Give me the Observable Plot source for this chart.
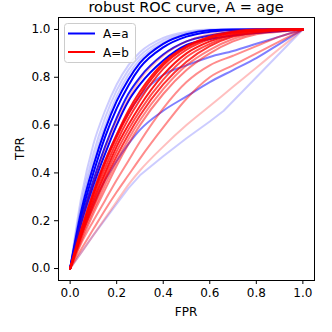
<!DOCTYPE html>
<html>
<head>
<meta charset="utf-8">
<script src="https://cdn.jsdelivr.net/npm/d3@7"></script>
<script src="https://cdn.jsdelivr.net/npm/@observablehq/plot@0.6"></script>
<style>
  html, body { margin: 0; padding: 0; background: #fff; }
  #chart { width: 332px; height: 332px; }
</style>
</head>
<body>
<div id="chart"></div>
<script>
// ---- data ----
const title = "robust ROC curve, A = age";
const xLabel = "FPR";
const yLabel = "TPR";
const groups = ["A=a", "A=b"];
const ticks = [0, 0.2, 0.4, 0.6, 0.8, 1.0];

const fpr = [0, 0.05, 0.1, 0.15, 0.2, 0.25, 0.3, 0.4, 0.5, 0.6, 0.7, 0.8, 0.9, 1.0];

const blueTPR = [
  [0, 0.31, 0.52, 0.66, 0.77, 0.85, 0.905, 0.965, 0.99, 1, 1, 1, 1, 1],
  [0, 0.28, 0.48, 0.63, 0.745, 0.83, 0.89, 0.955, 0.985, 0.998, 1, 1, 1, 1],
  [0, 0.26, 0.45, 0.60, 0.72, 0.81, 0.875, 0.945, 0.98, 0.995, 1, 1, 1, 1],
  [0, 0.25, 0.43, 0.58, 0.70, 0.79, 0.86, 0.94, 0.98, 0.997, 1, 1, 1, 1],
  [0, 0.23, 0.40, 0.55, 0.67, 0.765, 0.84, 0.925, 0.97, 0.99, 0.998, 1, 1, 1],
  [0, 0.21, 0.37, 0.51, 0.63, 0.73, 0.80, 0.895, 0.95, 0.975, 0.99, 0.997, 1, 1],
  [0, 0.20, 0.35, 0.48, 0.60, 0.70, 0.77, 0.87, 0.935, 0.96, 0.975, 0.985, 0.993, 1],
  [0, 0.19, 0.33, 0.45, 0.56, 0.65, 0.72, 0.81, 0.85, 0.885, 0.91, 0.94, 0.97, 1],
  [0, 0.15, 0.27, 0.37, 0.45, 0.52, 0.58, 0.66, 0.72, 0.78, 0.83, 0.88, 0.94, 1]
];
const blueAlpha = [0.2, 0.2, 0.2, 1, 1, 0.9, 1, 0.5, 0.5];

const blueKinkFPR = [0, 0.05, 0.1, 0.15, 0.2, 0.25, 0.3, 0.4, 0.5, 0.6, 0.66, 1.0];
const blueKinkTPR = [0, 0.07, 0.14, 0.205, 0.27, 0.335, 0.39, 0.47, 0.545, 0.615, 0.66, 1.0];
const blueKinkAlpha = 0.2;

const redTPR = [
  [0, 0.20, 0.36, 0.50, 0.62, 0.71, 0.79, 0.89, 0.95, 0.98, 0.995, 1, 1, 1],
  [0, 0.17, 0.32, 0.45, 0.56, 0.66, 0.74, 0.86, 0.93, 0.97, 0.99, 1, 1, 1],
  [0, 0.165, 0.31, 0.44, 0.55, 0.645, 0.725, 0.85, 0.925, 0.965, 0.987, 0.997, 1, 1],
  [0, 0.16, 0.30, 0.42, 0.53, 0.625, 0.705, 0.835, 0.915, 0.96, 0.985, 0.996, 1, 1],
  [0, 0.15, 0.285, 0.40, 0.51, 0.60, 0.68, 0.81, 0.90, 0.95, 0.98, 0.994, 1, 1],
  [0, 0.145, 0.27, 0.385, 0.49, 0.58, 0.66, 0.79, 0.885, 0.94, 0.975, 0.99, 0.998, 1],
  [0, 0.14, 0.26, 0.37, 0.47, 0.56, 0.64, 0.77, 0.865, 0.93, 0.97, 0.988, 0.997, 1],
  [0, 0.13, 0.245, 0.35, 0.45, 0.54, 0.62, 0.75, 0.85, 0.915, 0.96, 0.985, 0.996, 1],
  [0, 0.12, 0.23, 0.33, 0.43, 0.52, 0.60, 0.73, 0.83, 0.90, 0.95, 0.98, 0.99, 1],
  [0, 0.11, 0.20, 0.285, 0.37, 0.45, 0.53, 0.67, 0.78, 0.85, 0.89, 0.93, 0.97, 1],
  [0, 0.085, 0.165, 0.245, 0.32, 0.39, 0.46, 0.59, 0.71, 0.80, 0.85, 0.90, 0.95, 1],
  [0, 0.07, 0.14, 0.21, 0.28, 0.35, 0.41, 0.51, 0.60, 0.68, 0.76, 0.84, 0.92, 1]
];
const redAlpha = [0.25, 0.9, 0.9, 0.8, 0.9, 0.7, 0.8, 0.5, 0.5, 0.45, 0.45, 0.25];

// ---- build tables ----
const rows = [];
blueTPR.forEach((t, i) => t.forEach((v, j) => rows.push({fpr: fpr[j], tpr: v, id: "a" + i, group: groups[0], alpha: blueAlpha[i]})));
redTPR.forEach((t, i) => t.forEach((v, j) => rows.push({fpr: fpr[j], tpr: v, id: "b" + i, group: groups[1], alpha: redAlpha[i]})));
const kinkRows = blueKinkFPR.map((f, j) => ({fpr: f, tpr: blueKinkTPR[j], id: "ak", group: groups[0], alpha: blueKinkAlpha}));

const color = d3.scaleOrdinal(groups, ["#0000ff", "#ff0000"]);

const chart = Plot.plot({
  width: 332,
  height: 332,
  marginLeft: 58,
  marginRight: 18,
  marginTop: 17,
  marginBottom: 52,
  style: {fontFamily: "DejaVu Sans", fontSize: "12px", background: "#fff", color: "#000"},
  x: {domain: [-0.05, 1.05]},
  y: {domain: [-0.05, 1.05]},
  marks: [
    Plot.line(kinkRows, {x: "fpr", y: "tpr", z: "id", stroke: d => color(d.group), strokeOpacity: "alpha", strokeWidth: 2}),
    Plot.line(rows, {x: "fpr", y: "tpr", z: "id", stroke: d => color(d.group), strokeOpacity: "alpha", strokeWidth: 2, curve: "monotone-x"}),
    Plot.frame({stroke: "#000", strokeWidth: 1}),
    Plot.axisX({ticks, tickFormat: d3.format(".1f"), tickSize: 4, tickPadding: 4, fontSize: 12, label: null, stroke: "#000"}),
    Plot.axisY({ticks, tickFormat: d3.format(".1f"), tickSize: 4, tickPadding: 4, fontSize: 12, label: null, stroke: "#000"})
  ]
});

const svg = d3.select(chart);
// title and axis labels
svg.append("text").attr("x", 186).attr("y", 12).attr("text-anchor", "middle")
  .attr("font-family", "DejaVu Sans").attr("font-size", 14.5).attr("fill", "#000").text(title);
svg.append("text").attr("x", 186).attr("y", 316).attr("text-anchor", "middle")
  .attr("font-family", "DejaVu Sans").attr("font-size", 12).attr("fill", "#000").text(xLabel);
svg.append("text").attr("transform", "translate(24,148.5) rotate(-90)").attr("text-anchor", "middle")
  .attr("font-family", "DejaVu Sans").attr("font-size", 12).attr("fill", "#000").text(yLabel);

// legend
const lg = svg.append("g");
lg.append("rect").attr("x", 64.5).attr("y", 23.5).attr("width", 71).attr("height", 39).attr("rx", 3)
  .attr("fill", "#fff").attr("fill-opacity", 0.8).attr("stroke", "#cccccc").attr("stroke-width", 1);
groups.forEach((g, i) => {
  const y = 33.5 + i * 18.5;
  lg.append("line").attr("x1", 68).attr("x2", 95).attr("y1", y).attr("y2", y)
    .attr("stroke", color(g)).attr("stroke-width", 2);
  lg.append("text").attr("x", 103).attr("y", y + 4.5).attr("text-anchor", "start")
    .attr("font-family", "DejaVu Sans").attr("font-size", 12).attr("fill", "#000").text(g);
});

document.getElementById("chart").appendChild(chart);
</script>
</body>
</html>
